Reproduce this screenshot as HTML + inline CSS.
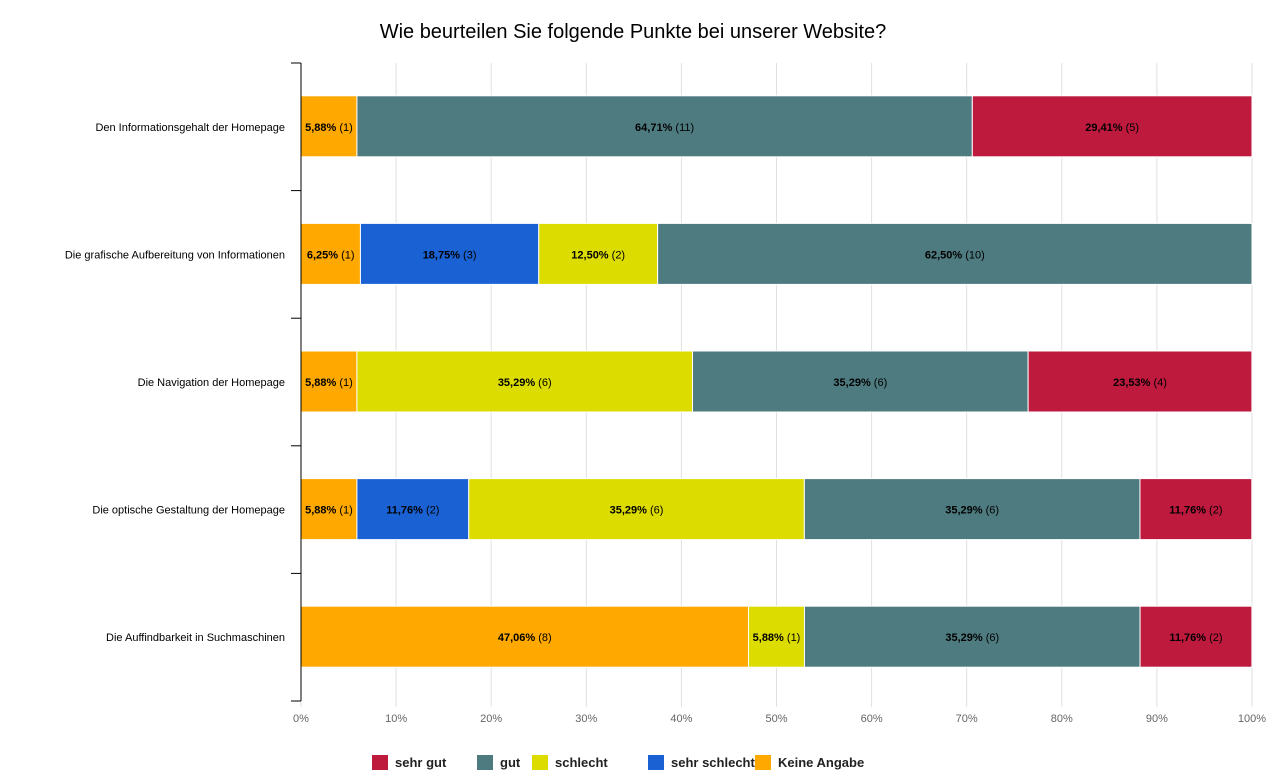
<!DOCTYPE html>
<html><head><meta charset="utf-8"><style>
body{margin:0;background:#fff;width:1278px;height:783px;overflow:hidden;font-family:"Liberation Sans",sans-serif}
svg{display:block}
</style></head><body>
<svg id="chart" width="1278" height="783" xmlns="http://www.w3.org/2000/svg">
<text x="633" y="38" text-anchor="middle" font-size="20" fill="#000">Wie beurteilen Sie folgende Punkte bei unserer Website?</text>
<g id="grid"></g><g id="bars"></g><g id="axes"></g><g id="legend"></g>
</svg>
<script>
const categories=["Den Informationsgehalt der Homepage","Die grafische Aufbereitung von Informationen","Die Navigation der Homepage","Die optische Gestaltung der Homepage","Die Auffindbarkeit in Suchmaschinen"];
const seriesNames=["Keine Angabe","sehr schlecht","schlecht","gut","sehr gut"];
const seriesColors=["#fea800","#1a62d4","#dcdc00","#4e7b80","#bd1a3e"];
const keineAngabe=[5.88,6.25,5.88,5.88,47.06];
const sehrSchlecht=[0,18.75,0,11.76,0];
const schlecht=[0,12.50,35.29,35.29,5.88];
const gut=[64.71,62.50,35.29,35.29,35.29];
const sehrGut=[29.41,0,23.53,11.76,11.76];
const cKeine=[1,1,1,1,8];
const cSehrSchlecht=[0,3,0,2,0];
const cSchlecht=[0,2,6,6,1];
const cGut=[11,10,6,6,6];
const cSehrGut=[5,0,4,2,2];
const xTicks=[0,10,20,30,40,50,60,70,80,90,100];
const series=[keineAngabe,sehrSchlecht,schlecht,gut,sehrGut];
const counts=[cKeine,cSehrSchlecht,cSchlecht,cGut,cSehrGut];
const NS="http://www.w3.org/2000/svg";
const X0=301,X1=1252,Y0=63,Y1=701;
const band=(Y1-Y0)/categories.length;
const x=v=>X0+(X1-X0)*v/100;
const yc=i=>Y0+band*(i+0.5);
function mk(t,a,p){const e=document.createElementNS(NS,t);for(const k in a)e.setAttribute(k,a[k]);p.appendChild(e);return e;}
const grid=document.getElementById('grid'),bars=document.getElementById('bars'),axes=document.getElementById('axes'),leg=document.getElementById('legend');
xTicks.forEach(t=>{
 const l=mk('line',{x1:x(t),x2:x(t),y1:Y0,y2:Y1+6,stroke:'#e0e0e0','stroke-width':1},grid);
 
 
 const tx=mk('text',{x:x(t),y:722,'text-anchor':'middle','font-size':11,fill:'#666'},axes);
 tx.textContent=t+'%';
 
 
});
const ax=mk('line',{x1:X0,x2:X0,y1:Y0,y2:Y1,stroke:'#000','stroke-width':1},axes);


for(let i=0;i<=categories.length;i++){
 const tk=mk('line',{x1:X0-10,x2:X0,y1:Y0+band*i,y2:Y0+band*i,stroke:'#000'},axes);
 
 
}
categories.forEach((c,i)=>{
 const t=mk('text',{x:285,y:yc(i)+4,'text-anchor':'end','font-size':11,fill:'#000'},axes);
 t.textContent=c;
 
 
 let acc=0;
 series.forEach((s,j)=>{
  const v=s[i];if(!v)return;
  const r=mk('rect',{x:x(acc),y:yc(i)-31,width:x(acc+v)-x(acc),height:61,fill:seriesColors[j],stroke:'#fff','stroke-width':1},bars);
  
  
  const lb=mk('text',{x:(x(acc)+x(acc+v))/2,y:yc(i)+4,'text-anchor':'middle','font-size':11,fill:'#000'},bars);
  const b=mk('tspan',{'font-weight':'bold'},lb);b.textContent=v.toFixed(2).replace('.',',')+'%';
  const n=mk('tspan',{},lb);n.textContent=' ('+counts[j][i]+')';
  
  
  acc+=v;
 });
});
const legendOrder=[4,3,2,1,0];
const legX=[372,477,532,648,755];
legendOrder.forEach((j,k)=>{
 const g=mk('g',{},leg);
 
 
 mk('rect',{x:legX[k],y:755,width:16,height:15,fill:seriesColors[j]},g);
 const t=mk('text',{x:legX[k]+23,y:767,'font-size':13,'font-weight':'bold',fill:'#222'},g);
 t.textContent=seriesNames[j];
});
</script>
</body></html>
